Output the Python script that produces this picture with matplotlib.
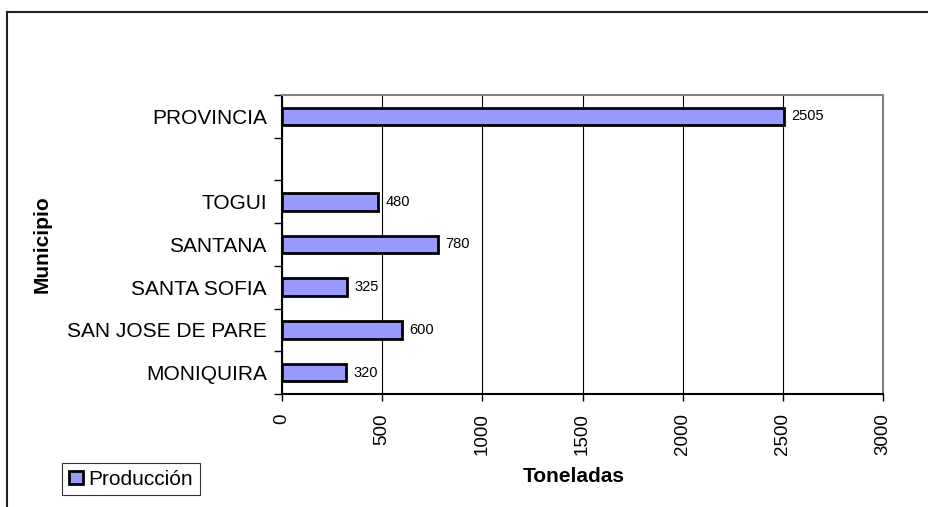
import matplotlib
matplotlib.use("Agg")
import matplotlib.pyplot as plt
from matplotlib.patches import Patch
from matplotlib.lines import Line2D
import numpy as np

categories = ["MONIQUIRA", "SAN JOSE DE PARE", "SANTA SOFIA", "SANTANA", "TOGUI", "", "PROVINCIA"]
values = [320, 600, 325, 780, 480, None, 2505]
x_ticks = [0, 500, 1000, 1500, 2000, 2500, 3000]
series_name = "Producción"
x_label = "Toneladas"
y_label = "Municipio"

plt.rcParams['font.family'] = ['Liberation Sans', 'DejaVu Sans']

W, H = 929, 507
fig = plt.figure(figsize=(W / 100, H / 100), dpi=100)
ax = fig.add_axes([282 / W, 1 - 394 / H, (883 - 282) / W, (394 - 95) / H])

bar_color = "#9999FF"
pos = np.arange(len(categories))
for p, v in zip(pos, values):
    if v is None:
        continue
    ax.barh(p, v, height=0.41, color=bar_color, edgecolor="black", linewidth=2, zorder=3)
    ax.text(v + 35, p, str(v), va="center", ha="left", fontsize=10.5, zorder=4)

ax.set_xlim(0, 3000)
ax.set_ylim(-0.5, len(categories) - 0.5)
ax.set_xticks(x_ticks)
ax.set_xticklabels([str(t) for t in x_ticks], rotation=90, fontsize=13.5)
ax.set_yticks(pos)
ax.set_yticklabels(categories, fontsize=15)
ax.set_yticks(np.arange(-0.5, len(categories), 1.0), minor=True)
ax.tick_params(axis="y", which="major", length=0, pad=11)
ax.tick_params(axis="y", which="minor", length=6, width=1, direction="out")
ax.tick_params(axis="x", which="major", length=5, width=1, direction="out", pad=9)

ax.grid(axis="x", color="black", linewidth=0.8, zorder=0)
ax.set_axisbelow(True)
for s in ["left", "bottom"]:
    ax.spines[s].set_color("black")
    ax.spines[s].set_linewidth(1.5)
for s in ["top", "right"]:
    ax.spines[s].set_color("#808080")
    ax.spines[s].set_linewidth(1.5)

fig.text(42 / W, 1 - 244 / H, y_label, rotation=90, fontsize=15, fontweight="bold",
         ha="center", va="center")
fig.text(574 / W, 1 - 477 / H, x_label, fontsize=15, fontweight="bold",
         ha="center", va="center")

# outer frame (left and top)
fig.add_artist(Line2D([7.5 / W, 7.5 / W], [0, 1 - 12 / H], color="#202020", linewidth=1.5,
                      transform=fig.transFigure))
fig.add_artist(Line2D([7.5 / W, 1], [1 - 12 / H, 1 - 12 / H], color="#202020", linewidth=1.5,
                      transform=fig.transFigure))

handle = Patch(facecolor=bar_color, edgecolor="black", linewidth=2)
leg = fig.legend([handle], [series_name], loc="upper left",
                 bbox_to_anchor=(62 / W, 1 - 463 / H), borderaxespad=0,
                 fontsize=15, frameon=True, fancybox=False, edgecolor="black",
                 handlelength=0.68, handleheight=0.6, handletextpad=0.28,
                 borderpad=0.32)
leg.get_frame().set_linewidth(0.8)

fig.savefig("out.png", dpi=100)
